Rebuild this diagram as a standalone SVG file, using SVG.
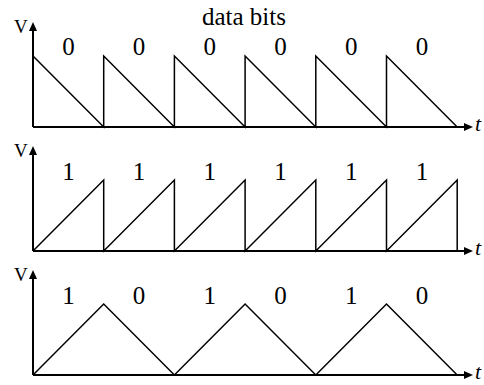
<svg xmlns="http://www.w3.org/2000/svg" width="484" height="385" viewBox="0 0 484 385">
<style>
.ax{stroke:#000;stroke-width:2;fill:none}
.wv{stroke:#000;stroke-width:1.5;fill:none;stroke-linejoin:miter}
.hd{fill:#000}
</style>
<rect width="484" height="385" fill="#fff"/>
<g font-family="Liberation Serif, Times New Roman, serif" fill="#000">
<text x="244" y="25" font-size="25" text-anchor="middle">data bits</text>

<g id="panel1">
<path class="wv" d="M33,56 L103.7,127 V56 L174.4,127 V56 L245.1,127 V56 L315.8,127 V56 L386.5,127 V56 L457.2,127"/>
<line class="ax" x1="33" y1="127" x2="466" y2="127"/>
<polygon class="hd" points="473,127 464,123 464,131"/>
<line class="ax" x1="33" y1="127" x2="33" y2="29"/>
<polygon class="hd" points="33,22 29,31 37,31"/>
<text x="14" y="33" font-size="19">V</text>
<text x="475" y="131" font-size="22" font-style="italic">t</text>
<g font-size="25" text-anchor="middle"><text x="68.4" y="55">0</text><text x="139" y="55">0</text><text x="209.8" y="55">0</text><text x="280.5" y="55">0</text><text x="351.2" y="55">0</text><text x="421.9" y="55">0</text></g>
</g>

<g id="panel2">
<path class="wv" d="M33,251 L103.7,180 V251 L174.4,180 V251 L245.1,180 V251 L315.8,180 V251 L386.5,180 V251 L457.2,180 V251"/>
<line class="ax" x1="33" y1="251" x2="466" y2="251"/>
<polygon class="hd" points="473,251 464,247 464,255"/>
<line class="ax" x1="33" y1="251" x2="33" y2="153"/>
<polygon class="hd" points="33,146 29,155 37,155"/>
<text x="14" y="157" font-size="19">V</text>
<text x="475" y="255" font-size="22" font-style="italic">t</text>
<g font-size="25" text-anchor="middle"><text x="68.4" y="180">1</text><text x="139" y="180">1</text><text x="209.8" y="180">1</text><text x="280.5" y="180">1</text><text x="351.2" y="180">1</text><text x="421.9" y="180">1</text></g>
</g>

<g id="panel3">
<path class="wv" d="M33,375 L103.7,304 L174.4,375 L245.1,304 L315.8,375 L386.5,304 L457.2,375"/>
<line class="ax" x1="33" y1="375" x2="466" y2="375"/>
<polygon class="hd" points="473,375 464,371 464,379"/>
<line class="ax" x1="33" y1="375" x2="33" y2="277"/>
<polygon class="hd" points="33,270 29,279 37,279"/>
<text x="14" y="281" font-size="19">V</text>
<text x="475" y="379" font-size="22" font-style="italic">t</text>
<g font-size="25" text-anchor="middle"><text x="68.4" y="304">1</text><text x="139" y="304">0</text><text x="209.8" y="304">1</text><text x="280.5" y="304">0</text><text x="351.2" y="304">1</text><text x="421.9" y="304">0</text></g>
</g>
</g>
</svg>
